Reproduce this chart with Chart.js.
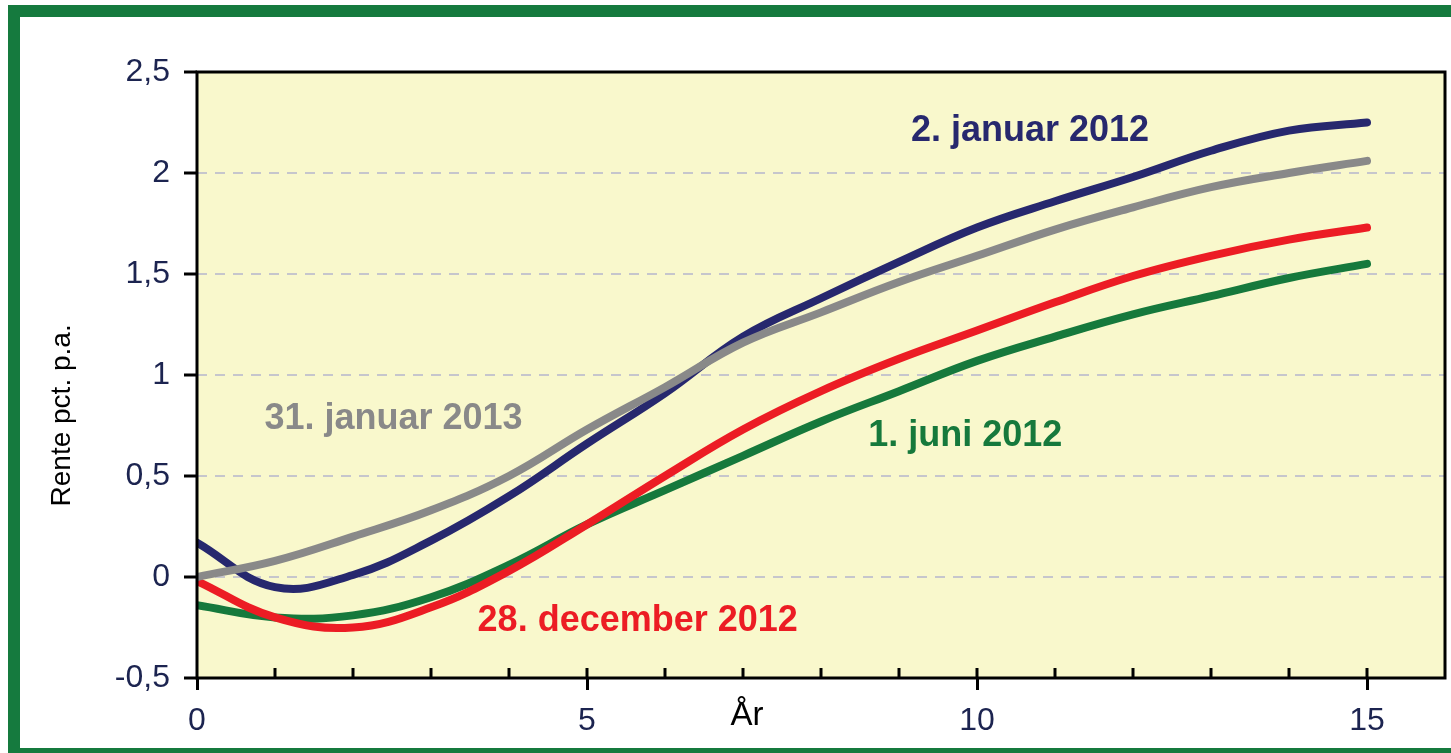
<!DOCTYPE html>
<html>
<head>
<meta charset="utf-8">
<script src="https://cdn.jsdelivr.net/npm/chart.js@4"></script>
<style>
  html, body { margin: 0; padding: 0; background: #fff; overflow: hidden; }
  #frame { position: absolute; left: 8px; top: 5px; width: 1470px; height: 755px; border: 12px solid #157a3e; box-sizing: border-box; }
  #Chart { position: absolute; left: 0; top: 0; }
</style>
</head>
<body>
<div id="frame"></div>
<canvas id="Chart" width="1451" height="753"></canvas>
<script>
// years to maturity
const years = [0, 1, 2, 3, 4, 5, 6, 7, 8, 9, 10, 11, 12, 13, 14, 15];

// zero coupon yields, pct. p.a.
const jan2012 = [0.17, -0.05, 0.01, 0.18, 0.40, 0.66, 0.91, 1.19, 1.38, 1.56, 1.73, 1.86, 1.98, 2.11, 2.21, 2.25];
const jun2012 = [-0.14, -0.20, -0.19, -0.10, 0.06, 0.26, 0.43, 0.60, 0.77, 0.92, 1.07, 1.19, 1.30, 1.39, 1.48, 1.55];
const dec2012 = [-0.02, -0.20, -0.25, -0.15, 0.03, 0.26, 0.50, 0.73, 0.92, 1.08, 1.22, 1.36, 1.49, 1.59, 1.67, 1.73];
const jan2013 = [0.00, 0.08, 0.20, 0.33, 0.50, 0.73, 0.94, 1.16, 1.31, 1.46, 1.59, 1.72, 1.83, 1.93, 2.00, 2.06];

const labelFont = '"Liberation Sans", Arial, sans-serif';
const tickInk = '#1c2450';

const toPoints = arr => arr.map((v, i) => ({ x: years[i], y: v }));

function line(label, arr, color) {
  return {
    label: label,
    data: toPoints(arr),
    borderColor: color,
    borderWidth: 8,
    borderCapStyle: 'round',
    borderJoinStyle: 'round',
    tension: 0.4,
    pointRadius: 0,
    fill: false
  };
}

// background, frame, inner ticks and text labels
const paper = {
  id: 'paper',
  beforeDraw(chart) {
    const { ctx, chartArea: a } = chart;
    ctx.save();
    ctx.fillStyle = '#f9f8cc';
    ctx.fillRect(a.left, a.top, a.width, a.height);
    ctx.restore();
  },
  afterDraw(chart) {
    const { ctx, chartArea: a, scales: { x, y } } = chart;
    ctx.save();
    ctx.strokeStyle = '#000';
    ctx.lineWidth = 3;
    ctx.beginPath();
    for (let v = 1; v < 16; v++) {
      const px = x.getPixelForValue(v);
      ctx.moveTo(px, a.bottom);
      ctx.lineTo(px, a.bottom - 10);
    }
    ctx.stroke();
    ctx.strokeRect(a.left, a.top, a.width, a.height);

    // series names
    ctx.font = 'bold 36px ' + labelFont;
    ctx.textAlign = 'center';
    ctx.textBaseline = 'middle';
    const names = [
      ['2. januar 2012', 10.68, 2.21, '#27286e'],
      ['31. januar 2013', 2.52, 0.78, '#898989'],
      ['1. juni 2012', 9.85, 0.70, '#16793c'],
      ['28. december 2012', 5.65, -0.22, '#ec1c24']
    ];
    names.forEach(([t, vx, vy, c]) => {
      ctx.fillStyle = c;
      ctx.fillText(t, x.getPixelForValue(vx), y.getPixelForValue(vy));
    });

    // axis titles
    ctx.fillStyle = '#000';
    ctx.font = '33px ' + labelFont;
    ctx.fillText('År', x.getPixelForValue(7.05), a.bottom + 38);
    ctx.font = '28px ' + labelFont;
    ctx.translate(62, y.getPixelForValue(0.8));
    ctx.rotate(-Math.PI / 2);
    ctx.fillText('Rente pct. p.a.', 0, 0);
    ctx.restore();
  }
};

const ctx = document.getElementById('Chart').getContext('2d');

new Chart(ctx, {
  type: 'line',
  data: {
    datasets: [
      line('31. januar 2013', jan2013, '#898989'),
      line('2. januar 2012', jan2012, '#27286e'),
      line('28. december 2012', dec2012, '#ec1c24'),
      line('1. juni 2012', jun2012, '#16793c')
    ]
  },
  plugins: [paper],
  options: {
    responsive: false,
    animation: false,
    layout: { padding: { left: 0, right: 6, top: 72, bottom: 0 } },
    plugins: {
      legend: { display: false },
      tooltip: { enabled: false }
    },
    scales: {
      x: {
        type: 'linear',
        min: 0,
        max: 16,
        afterFit: s => { s.height = 75; s.paddingRight = 0; s.paddingLeft = 0; },
        border: { display: false },
        grid: {
          drawOnChartArea: false,
          tickLength: 12,
          tickWidth: 3,
          tickBorderDash: [],
          tickColor: c => (c.tick && c.tick.value % 5 === 0) ? '#000' : 'rgba(0,0,0,0)'
        },
        ticks: {
          stepSize: 1,
          autoSkip: false,
          maxRotation: 0,
          padding: 12,
          color: tickInk,
          font: { family: labelFont, size: 32 },
          callback: v => (v % 5 === 0 && v <= 15) ? String(v) : ''
        }
      },
      y: {
        min: -0.5,
        max: 2.5,
        afterFit: s => { s.width = 197; s.paddingTop = 0; s.paddingBottom = 0; },
        border: { display: false, dash: [10, 8] },
        grid: {
          lineWidth: 2,
          color: c => (c.tick && (c.tick.value === -0.5 || c.tick.value === 2.5)) ? 'rgba(0,0,0,0)' : '#c6c6cc',
          tickLength: 13,
          tickWidth: 3,
          tickColor: '#000',
          tickBorderDash: []
        },
        ticks: {
          stepSize: 0.5,
          padding: 14,
          color: tickInk,
          font: { family: labelFont, size: 32 },
          callback: v => String(v).replace('.', ',')
        }
      }
    }
  }
});
</script>
</body>
</html>
